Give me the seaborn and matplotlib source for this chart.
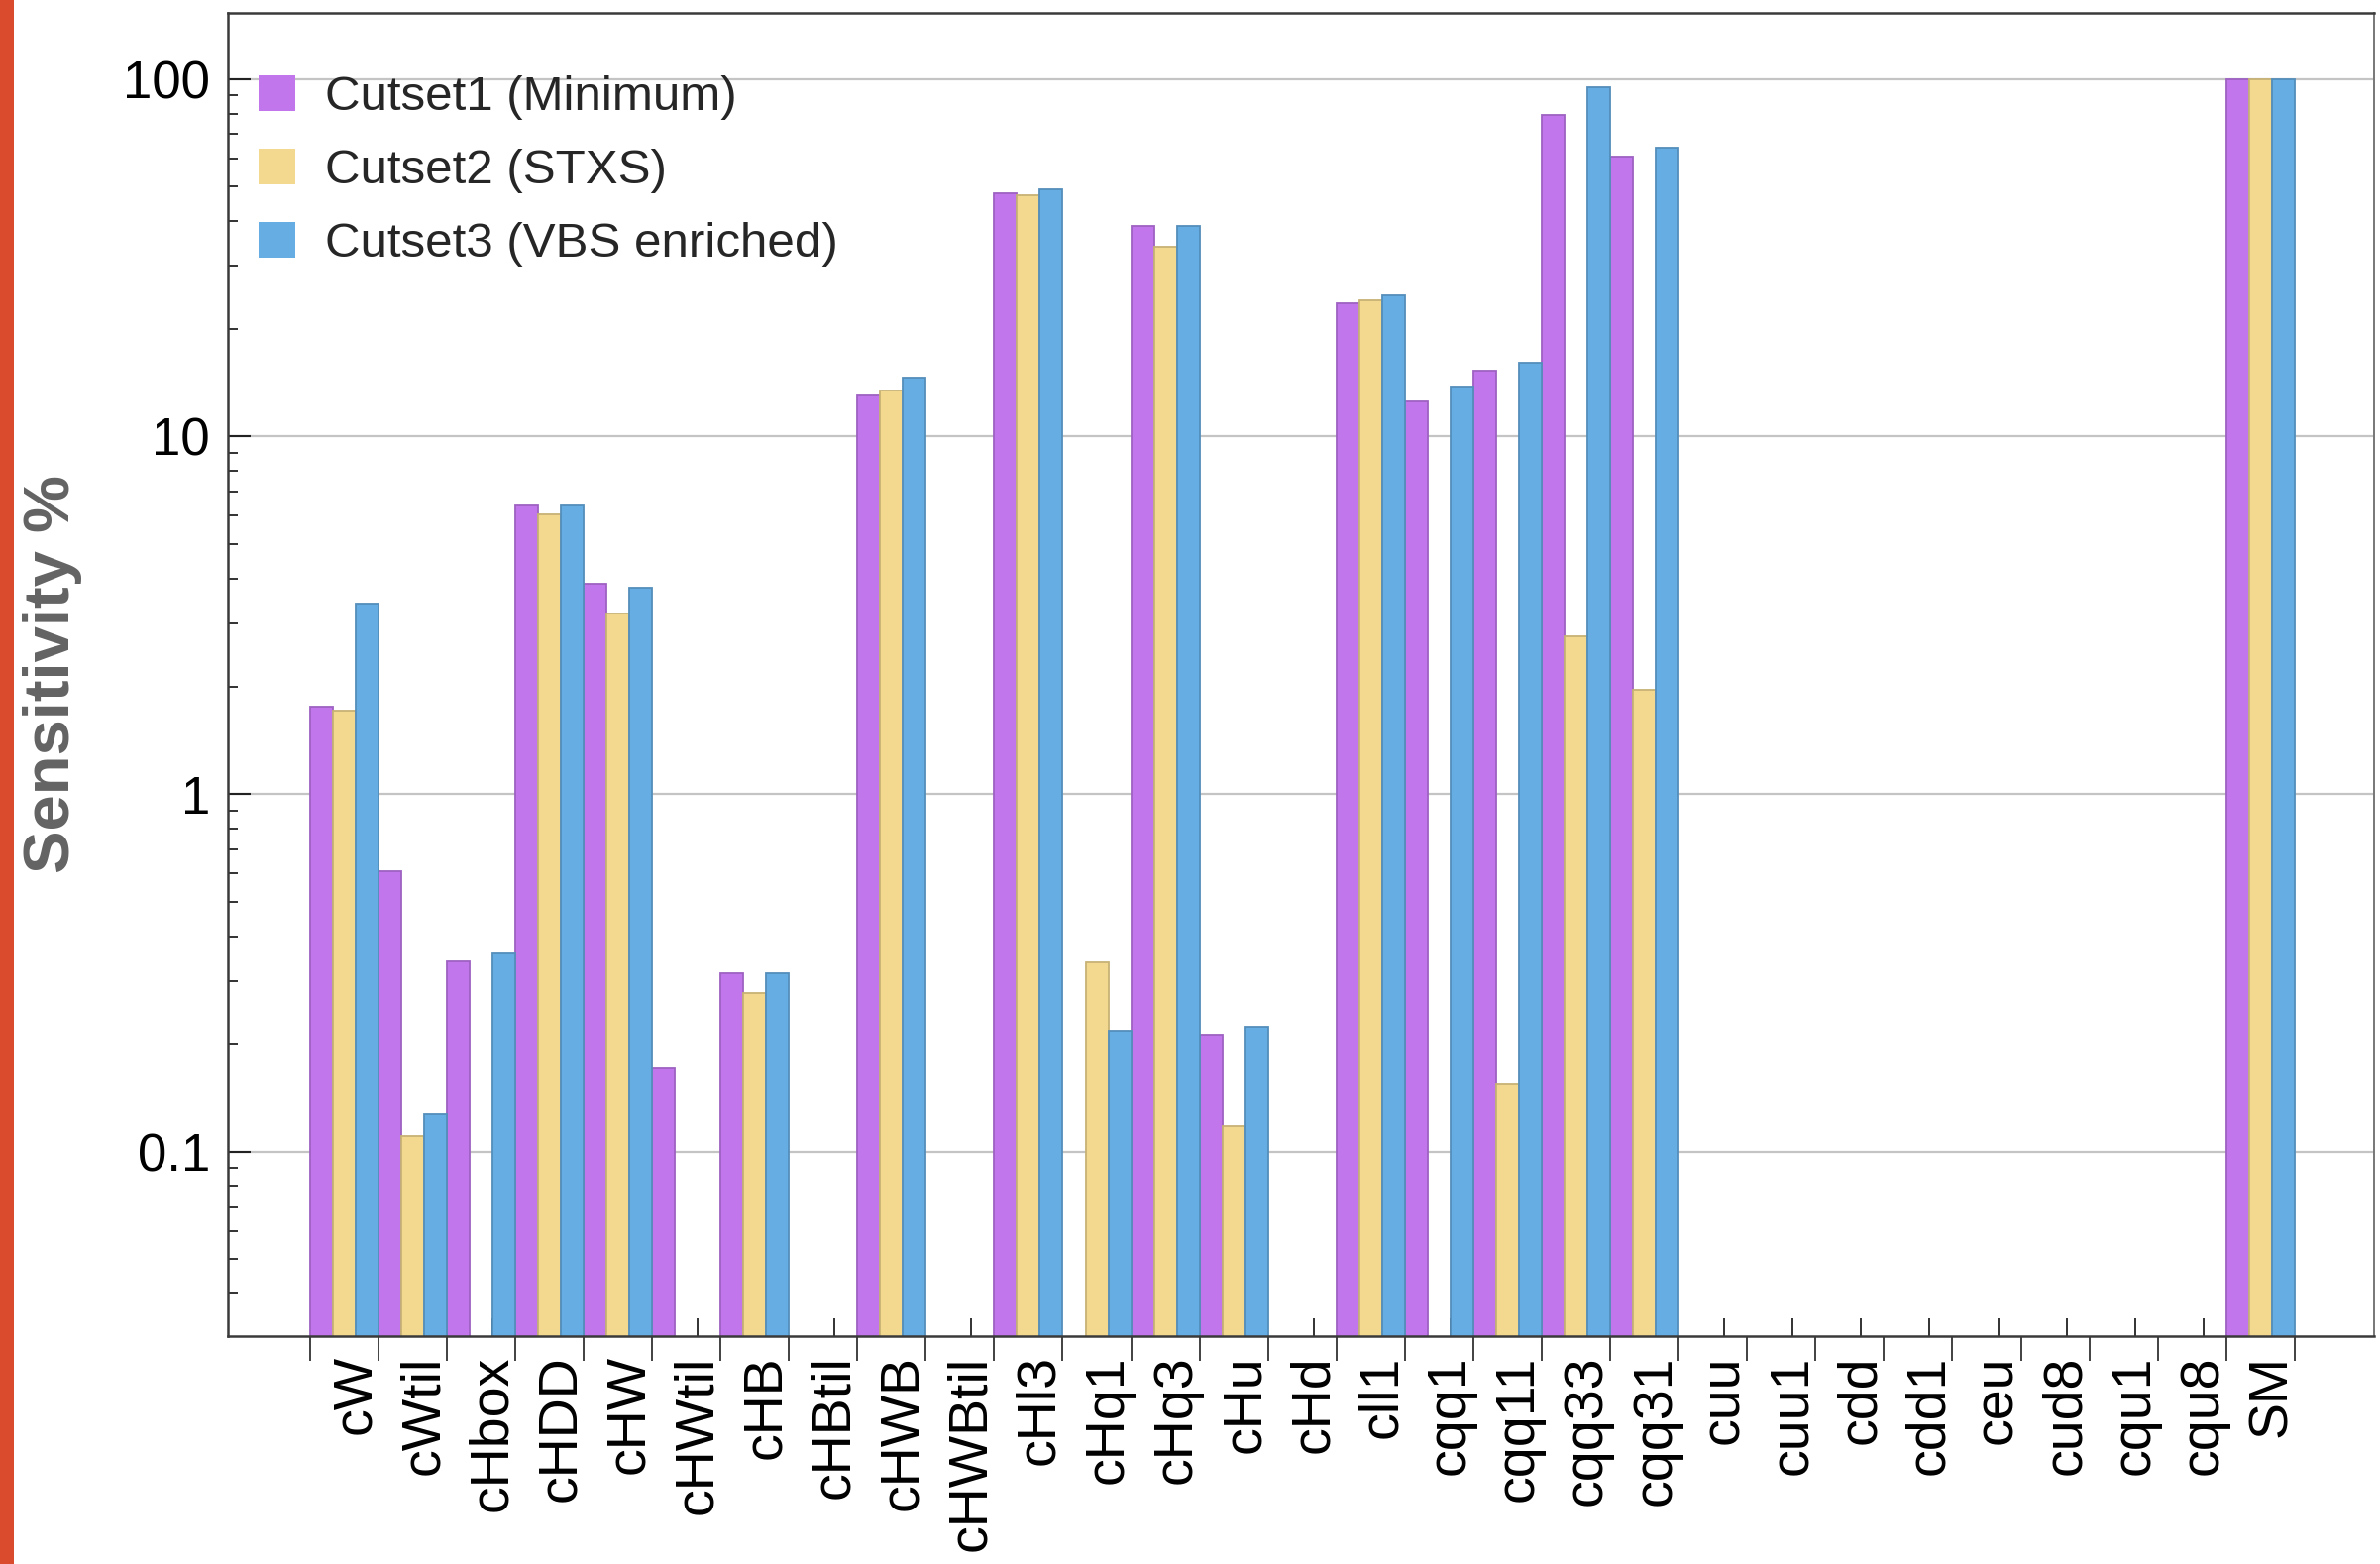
import numpy as np
import pandas as pd
import matplotlib
matplotlib.use("Agg")
import matplotlib.pyplot as plt
import seaborn as sns
from matplotlib.ticker import FixedLocator, LogLocator, NullFormatter
from matplotlib.patches import Rectangle
from matplotlib.colors import to_rgb

# Wilson coefficients (x axis categories)
operators = ["cW", "cWtil", "cHbox", "cHDD", "cHW", "cHWtil", "cHB", "cHBtil",
             "cHWB", "cHWBtil", "cHl3", "cHq1", "cHq3", "cHu", "cHd", "cll1",
             "cqq1", "cqq11", "cqq33", "cqq31", "cuu", "cuu1", "cdd", "cdd1",
             "ceu", "cud8", "cqu1", "cqu8", "SM"]

nan = np.nan
# Sensitivity in percent for each cut set (nan = no sensitivity shown)
cutset1 = [1.75, 0.61, 0.34, 6.40, 3.88, 0.171, 0.315, nan,
           13.0, nan, 47.8, nan, 38.7, 0.212, nan, 23.5,
           12.5, 15.3, 79.2, 60.8, nan, nan, nan, nan,
           nan, nan, nan, nan, 100.0]
cutset2 = [1.71, 0.111, nan, 6.07, 3.20, nan, 0.278, nan,
           13.4, nan, 47.3, 0.339, 34.0, 0.118, nan, 24.0,
           nan, 0.1545, 2.76, 1.95, nan, nan, nan, nan,
           nan, nan, nan, nan, 100.0]
cutset3 = [3.40, 0.127, 0.359, 6.40, 3.77, nan, 0.315, nan,
           14.6, nan, 49.2, 0.217, 38.7, 0.223, nan, 24.8,
           13.8, 16.1, 95.0, 64.2, nan, nan, nan, nan,
           nan, nan, nan, nan, 100.0]

series_names = ["Cutset1 (Minimum)", "Cutset2 (STXS)", "Cutset3 (VBS enriched)"]
series_colors = ["#C176EC", "#F3D98F", "#66ADE4"]

y_major = [0.1, 1, 10, 100]
y_major_labels = ["0.1", "1", "10", "100"]

# long-form table for seaborn
frames = []
for name, vals in zip(series_names, [cutset1, cutset2, cutset3]):
    frames.append(pd.DataFrame({"operator": operators, "cutset": name, "sensitivity": vals}))
df = pd.concat(frames, ignore_index=True).dropna()

sns.set_theme(style="white")
plt.rcParams["font.family"] = ["Liberation Sans", "DejaVu Sans"]

fig = plt.figure(figsize=(24.02, 15.78), dpi=100)
ax = fig.add_axes([0.0958, 0.1458, 0.9017, 0.8460])

sns.barplot(data=df, x="operator", y="sensitivity", hue="cutset",
            order=operators, hue_order=series_names, palette=series_colors,
            width=1.0, errorbar=None, saturation=1.0, linewidth=1.3, ax=ax)

# darker outline in each bar's own hue
for p in ax.patches:
    r, g, b = to_rgb(p.get_facecolor())
    p.set_edgecolor((r * 0.82, g * 0.82, b * 0.82))

ax.set_yscale("log")
ax.set_ylim(0.0305, 153)
ax.set_xlim(-1.695, 29.66)

n = len(operators)
ax.xaxis.set_major_locator(FixedLocator(np.arange(n) + 1 / 6))
ax.set_xticklabels(operators, rotation=90)
ax.xaxis.set_minor_locator(FixedLocator(np.arange(n + 1) - 0.5))

ax.yaxis.set_major_locator(FixedLocator(y_major))
ax.set_yticklabels(y_major_labels)
ax.yaxis.set_minor_locator(LogLocator(base=10, subs=np.arange(2, 10)))
ax.yaxis.set_minor_formatter(NullFormatter())

ax.tick_params(axis="x", which="major", direction="in", length=13, width=1.3,
               pad=14, labelsize=40, color="#222222", labelcolor="black",
               bottom=True, top=False)
ax.tick_params(axis="x", which="minor", direction="out", length=18, width=1.3,
               color="#333333", bottom=True, top=False)
ax.tick_params(axis="y", which="major", direction="in", length=16.5, width=1.5,
               pad=13, labelsize=38, color="#222222", labelcolor="black",
               left=True, right=False)
ax.tick_params(axis="y", which="minor", direction="in", length=7.5, width=1.3,
               color="#222222", left=True, right=False)

ax.set_axisbelow(True)
ax.yaxis.grid(True, which="major", color="#c4c4c4", linewidth=1.6)
ax.xaxis.grid(False)

for side, spine in ax.spines.items():
    spine.set_visible(True)
    spine.set_linewidth(1.8)
    spine.set_color("#3a3a3a")
ax.spines["right"].set_color("#777777")
ax.spines["right"].set_linewidth(1.4)

ax.set_xlabel("")
ax.set_ylabel("Sensitivity %", fontsize=47, fontweight="bold", color="#636363",
              va="center")
ax.yaxis.set_label_coords(-0.0817, 0.5)

handles, labels = ax.get_legend_handles_labels()
if ax.get_legend() is not None:
    ax.get_legend().remove()
leg = ax.legend(handles, labels, loc="upper left", bbox_to_anchor=(0.0143, 0.953),
                frameon=False, fontsize=35.5, borderpad=0, borderaxespad=0,
                handlelength=0.75, handleheight=0.76, handletextpad=0.6,
                labelspacing=0.58)
for h in leg.legend_handles:
    h.set_edgecolor("none")

# slide border strip at the far left
fig.patches.append(Rectangle((0, 0), 14 / 2402, 1, transform=fig.transFigure,
                             facecolor="#DA4A2C", edgecolor="none", zorder=0))

fig.savefig("out.png", dpi=100)
